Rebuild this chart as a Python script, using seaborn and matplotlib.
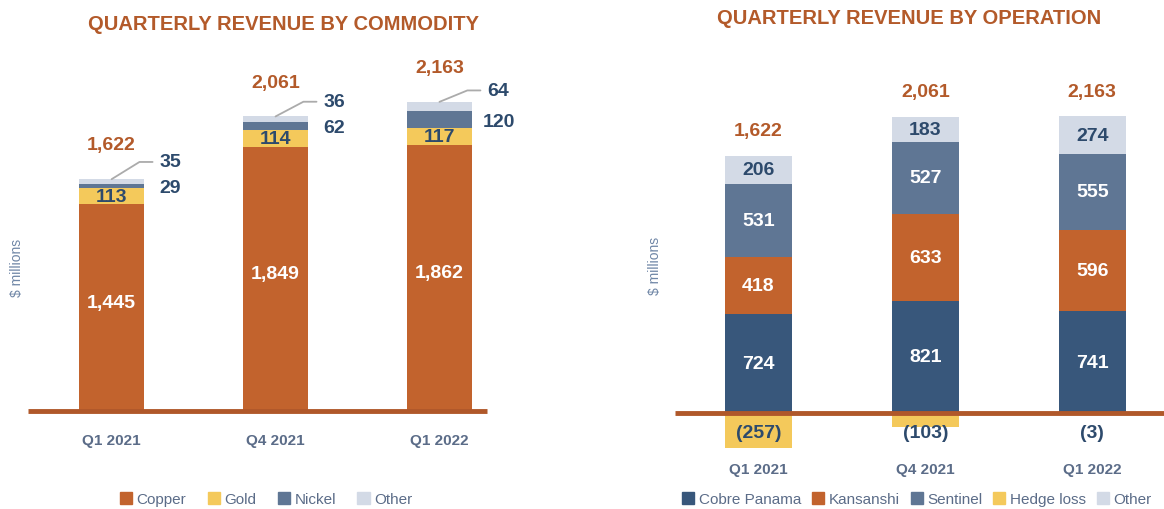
import numpy as np
import pandas as pd
import matplotlib
matplotlib.use('Agg')
import matplotlib.pyplot as plt
from matplotlib.patches import Patch
import seaborn as sns

# data ($ millions)
quarters = ['Q1 2021', 'Q4 2021', 'Q1 2022']

copper = [1445, 1849, 1862]
gold = [113, 114, 117]
nickel = [29, 62, 120]
other_comm = [35, 36, 64]

cobre_panama = [724, 821, 741]
kansanshi = [418, 633, 596]
sentinel = [531, 527, 555]
other_ops = [206, 183, 274]
hedge_loss = [-257, -103, -3]

totals = [1622, 2061, 2163]

# colours
ORANGE = '#C2632D'
YELLOW = '#F4C95B'
SLATE = '#5F7694'
LIGHT = '#D3DAE6'
NAVY = '#38577B'
LINE = '#B0582A'
TXT_ORANGE = '#B35A2A'
TXT_NAVY = '#2D4A6C'
TICK = '#5B6C88'

sns.set_style('white')
plt.rcParams['font.family'] = ['Liberation Sans', 'DejaVu Sans']

W, H = 1164, 510
fig = plt.figure(figsize=(W / 100, H / 100), dpi=100)


def stacked(ax, layers, colors):
    # draw cumulative heights from the top layer down so each sits on the one below
    cum = np.cumsum(np.array(layers), axis=0)
    for i in reversed(range(len(layers))):
        df = pd.DataFrame({'quarter': quarters, 'value': cum[i]})
        sns.barplot(data=df, x='quarter', y='value', color=colors[i], width=0.4,
                    saturation=1, errorbar=None, linewidth=0, ax=ax)
    return cum


def clean(ax, pad):
    sns.despine(ax=ax, left=True, bottom=True)
    ax.set_yticks([])
    ax.set_xlabel('')
    ax.set_ylabel('')
    ax.tick_params(axis='x', length=0, pad=pad)
    for lab in ax.get_xticklabels():
        lab.set_fontweight('bold')
        lab.set_color(TICK)
        lab.set_fontsize(11)


# ---- left: revenue by commodity ----
ax1 = fig.add_axes([28 / W, 1 - 412 / H, (487 - 28) / W, (412 - 69) / H])
cum1 = stacked(ax1, [copper, gold, nickel, other_comm], [ORANGE, YELLOW, SLATE, LIGHT])
ax1.set_ylim(0, 2400)
ax1.set_xlim(-0.51, 2.29)
ax1.axhline(0, color=LINE, lw=3.5, zorder=5, clip_on=False, solid_capstyle='butt')
clean(ax1, 16)

for i in range(len(quarters)):
    ax1.text(i, copper[i] / 2 + 40, f'{copper[i]:,}', ha='center', va='center',
             color='white', fontsize=14, fontweight='bold')
    ax1.text(i, copper[i] + gold[i] / 2, f'{gold[i]}', ha='center', va='center',
             color=TXT_NAVY, fontsize=14, fontweight='bold')
    nk_mid = cum1[1][i] + nickel[i] / 2
    ax1.text(i + 0.36, nk_mid - 10, f'{nickel[i]}', ha='center', va='center',
             color=TXT_NAVY, fontsize=14, fontweight='bold')
    oy = max(nk_mid + 170, totals[i] + 80)
    ax1.plot([i, i + 0.17, i + 0.25], [totals[i], oy, oy], color='#ABABAB', lw=1.3)
    ax1.text(i + 0.36, oy, f'{other_comm[i]}', ha='center', va='center',
             color=TXT_NAVY, fontsize=14, fontweight='bold')
    ax1.text(i, totals[i] + 240, f'{totals[i]:,}', ha='center', va='center',
             color=TXT_ORANGE, fontsize=14, fontweight='bold')

fig.text(283 / W, 1 - 24 / H, 'QUARTERLY REVENUE BY COMMODITY', ha='center', va='center',
         color=TXT_ORANGE, fontsize=14.5, fontweight='bold')
fig.text(17 / W, 1 - 268 / H, '$ millions', rotation=90, ha='center', va='center',
         color='#6F86A6', fontsize=10)

fig.legend(handles=[Patch(color=c, label=l) for c, l in
                    zip([ORANGE, YELLOW, SLATE, LIGHT], ['Copper', 'Gold', 'Nickel', 'Other'])],
           loc='center', bbox_to_anchor=(266 / W, 1 - 500 / H), ncol=4, frameon=False,
           handlelength=0.8, handleheight=0.8, handletextpad=0.3, columnspacing=1.4,
           fontsize=11, labelcolor=TICK)

# ---- right: revenue by operation ----
scale = 0.137
ax2 = fig.add_axes([675 / W, 1 - 460 / H, (W - 675) / W, (460 - 69) / H])
cum2 = stacked(ax2, [cobre_panama, kansanshi, sentinel, other_ops], [NAVY, ORANGE, SLATE, LIGHT])
sns.barplot(data=pd.DataFrame({'quarter': quarters, 'value': hedge_loss}), x='quarter', y='value',
            color=YELLOW, width=0.4, saturation=1, errorbar=None, linewidth=0, ax=ax2)
ax2.set_ylim(-(460 - 414) / scale, (414 - 69) / scale)
ax2.set_xlim(-0.50, 2.43)
ax2.axhline(0, color=LINE, lw=3.5, zorder=5, solid_capstyle='butt')
clean(ax2, 2)

for i in range(len(quarters)):
    segs = [cobre_panama, kansanshi, sentinel, other_ops]
    cols = ['white', 'white', 'white', TXT_NAVY]
    base = 0
    for s, c in zip(segs, cols):
        ax2.text(i, base + s[i] / 2, f'{s[i]}', ha='center', va='center',
                 color=c, fontsize=14, fontweight='bold')
        base += s[i]
    ax2.text(i, base + 180, f'{totals[i]:,}', ha='center', va='center',
             color=TXT_ORANGE, fontsize=14, fontweight='bold')
    ax2.text(i, -145, f'({-hedge_loss[i]})', ha='center', va='center',
             color=TXT_NAVY, fontsize=14, fontweight='bold', zorder=6)

fig.text(909 / W, 1 - 19 / H, 'QUARTERLY REVENUE BY OPERATION', ha='center', va='center',
         color=TXT_ORANGE, fontsize=14.5, fontweight='bold')
fig.text(655 / W, 1 - 266 / H, '$ millions', rotation=90, ha='center', va='center',
         color='#6F86A6', fontsize=10)

fig.legend(handles=[Patch(color=c, label=l) for c, l in
                    zip([NAVY, ORANGE, SLATE, YELLOW, LIGHT],
                        ['Cobre Panama', 'Kansanshi', 'Sentinel', 'Hedge loss', 'Other'])],
           loc='center', bbox_to_anchor=(917 / W, 1 - 500 / H), ncol=5, frameon=False,
           handlelength=0.8, handleheight=0.8, handletextpad=0.3, columnspacing=0.7,
           fontsize=11, labelcolor=TICK)

fig.savefig('out.png', dpi=100)
